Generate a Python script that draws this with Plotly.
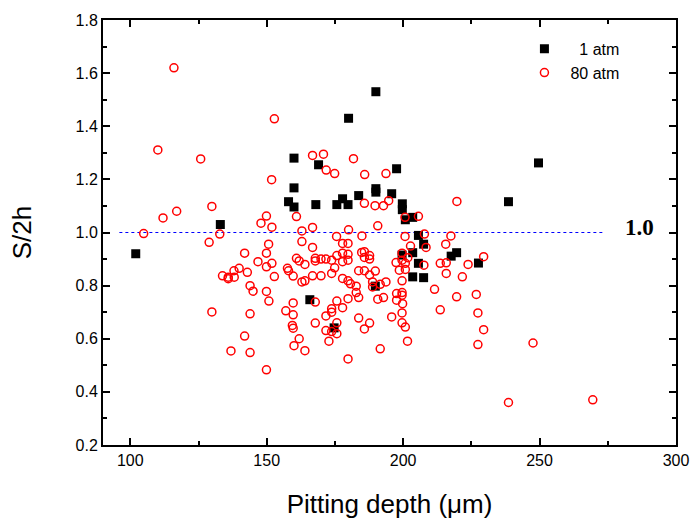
import plotly.graph_objects as go

# 1 atm (filled black squares)
x_1atm = [102, 133, 190, 180, 160, 169, 197.6, 160, 190, 190, 158, 160, 168, 175.7, 177.8,
          179.8, 183.7, 195.8, 199.7, 199.7, 200.8, 203.5, 205.6, 207.5, 203.5, 199.6, 205.6,
          203.5, 207.5, 217.6, 219.6, 227.6, 165.8, 174.7, 189.8, 249.6, 238.6]
y_1atm = [0.92, 1.03, 1.53, 1.43, 1.28, 1.255, 1.24, 1.168, 1.165, 1.152, 1.116, 1.096, 1.105, 1.105, 1.127,
          1.105, 1.139, 1.146, 1.108, 1.086, 1.048, 1.057, 0.989, 0.956, 0.924, 0.915, 0.884,
          0.833, 0.830, 0.911, 0.924, 0.885, 0.747, 0.641, 0.798, 1.262, 1.116]

# 80 atm (open red circles)
x_80atm = [116, 152.8, 110.1, 125.8, 151.8, 129.9, 117, 112, 149.9, 147.9, 151.9, 104.9, 128.9, 132.8,
           150.7, 141.9, 149.9, 146.8, 151.9, 149.9, 139.9, 138, 142.9, 133.8, 135.9, 135.9, 138.1,
           152.8, 143.9, 145, 149.9, 150.8, 129.9, 143.9, 141.9, 136.9, 143.9, 149.9, 157, 157.6,
           158, 159.7, 159.7, 159.7, 159.4, 160,
           166.8, 170.8, 171.8, 174.9, 160.9, 162.9, 166.8, 175.6, 180, 181.8, 185.9, 193.7, 185.8,
           189.7, 192.8, 194.7, 200.7, 205.6, 190.7, 184.9, 200.7, 207.8, 219.7, 217.5,
           162.9, 177.8, 179.8, 166.8, 202.7, 208.4, 215.6, 160.9, 161.9, 164, 167.8, 167.8, 169.9,
           171.7, 173.8, 175.7, 177.8, 179.8, 177.8, 179.8, 184.8, 185.8, 185.8, 187.7, 187.7, 197.4,
           199.6, 199.6, 201.7, 198.6, 200.8, 199.6, 207.6, 213.6, 215.8, 215.8, 221.7, 223.8, 211.5,
           219.6, 226.8, 213.6, 227.4, 227.4,
           166.8, 169.9, 173.8, 174.9, 162.9, 164, 177.8, 179.8, 180.7, 182.8, 183.7, 185.8, 187.7,
           189.8, 188.8, 188.8, 191.6, 193.7, 182.8, 183.7, 179.8, 175.7, 177.8, 173.8, 173.8, 171.7,
           167.8, 167.8, 171.7, 173.8, 175.7, 175.7, 172.8, 179.8, 183.7, 185.8, 187.7, 190.7, 192.8,
           195.8, 191.6, 197.6, 197.6, 199.6, 199.6, 199.6, 199.6, 200.8, 201.6, 199.8, 159.7, 161.9,
           164, 229.5, 229.5, 247.6, 238.6, 269.5, 200.8]
y_80atm = [1.62, 1.428, 1.311, 1.277, 1.199, 1.098, 1.08, 1.055, 1.062, 1.035, 1.02, 0.996, 0.963, 0.994,
           0.956, 0.922, 0.922, 0.89, 0.884, 0.871, 0.865, 0.856, 0.85, 0.837, 0.832, 0.826, 0.832,
           0.834, 0.8, 0.779, 0.778, 0.742, 0.701, 0.694, 0.61, 0.554, 0.548, 0.483, 0.705, 0.865,
           0.856, 0.836, 0.735, 0.69, 0.65, 0.574,
           1.29, 1.295, 1.235, 1.222, 1.06, 1.006, 1.019, 0.985, 1.01, 1.278, 1.218, 1.222, 1.11,
           1.101, 1.101, 1.12, 1.057, 1.061, 1.025, 0.987, 0.985, 0.994, 1.117, 0.987,
           0.966, 0.959, 0.959, 0.944, 0.949, 0.944, 0.956, 0.903, 0.893, 0.88, 0.903, 0.893, 0.9,
           0.9, 0.896, 0.913, 0.922, 0.918, 0.89, 0.896, 0.925, 0.928, 0.906, 0.913, 0.9, 0.887,
           0.922, 0.896, 0.905, 0.858, 0.861, 0.818, 0.877, 0.884, 0.886, 0.846, 0.833, 0.88, 0.786,
           0.758, 0.767, 0.709, 0.697, 0.578,
           0.837, 0.837, 0.846, 0.867, 0.814, 0.818, 0.827, 0.818, 0.807, 0.798, 0.856, 0.856, 0.84,
           0.855, 0.814, 0.795, 0.805, 0.814, 0.774, 0.755, 0.751, 0.742, 0.717, 0.713, 0.70, 0.686,
           0.738, 0.659, 0.631, 0.627, 0.66, 0.619, 0.591, 0.524, 0.678, 0.637, 0.659, 0.749, 0.755,
           0.682, 0.562, 0.77, 0.745, 0.764, 0.774, 0.697, 0.66, 0.644, 0.591, 0.732, 0.64, 0.60,
           0.555, 0.909, 0.634, 0.584, 0.36, 0.37, 0.884]

ref_x = [96, 273]
ref_y = [1.0, 1.0]

FONT = "Liberation Sans, Arial, sans-serif"

fig = go.Figure()
fig.add_trace(go.Scatter(x=ref_x, y=ref_y, mode="lines", showlegend=False, hoverinfo="skip",
                         line=dict(color="blue", width=1, dash="3px,3px")))
fig.add_trace(go.Scatter(x=x_1atm, y=y_1atm, mode="markers", name="\u20071 atm",
                         marker=dict(symbol="square", size=9, color="black")))
fig.add_trace(go.Scatter(x=x_80atm, y=y_80atm, mode="markers", name="80 atm",
                         marker=dict(symbol="circle-open", size=8, color="red", line=dict(width=1.5))))

fig.add_annotation(x=1.0, xref="paper", y=1.0, text="<b>1.0</b>", showarrow=False,
                   xanchor="right", xshift=-20, yshift=5,
                   font=dict(family="Liberation Serif, Times New Roman, serif", size=23, color="black"))

axis_common = dict(showline=True, linecolor="black", linewidth=2, mirror="ticks", ticks="inside",
                   ticklen=7, tickwidth=1.5, tickcolor="black", showgrid=False, zeroline=False,
                   automargin=False, ticklabeloverflow="allow",
                   tickfont=dict(family=FONT, size=16, color="black"))

fig.update_xaxes(range=[90, 300], dtick=50, tick0=100,
                 minor=dict(dtick=25, ticks="inside", ticklen=4, tickcolor="black"),
                 title=dict(text="Pitting depth (\u03bcm)", font=dict(family=FONT, size=26, color="black"),
                            standoff=27),
                 **axis_common)
fig.update_yaxes(range=[0.2, 1.8], dtick=0.2, tick0=0.2, tickformat=".1f",
                 minor=dict(dtick=0.1, ticks="inside", ticklen=4, tickcolor="black"),
                 title=dict(text="S/2h", font=dict(family=FONT, size=26, color="black"), standoff=36),
                 **axis_common)

fig.update_layout(
    width=691, height=522,
    margin=dict(l=103, r=15, t=20, b=77),
    plot_bgcolor="white", paper_bgcolor="white",
    font=dict(family=FONT, color="black"),
    legend=dict(x=0.725, y=0.972, xanchor="left", yanchor="top", bgcolor="rgba(0,0,0,0)",
                font=dict(family=FONT, size=16, color="black"), itemwidth=42, tracegroupgap=0),
)

# drop the default page margin so the figure sits at the window's corner
fig.write_html("out.html", config={"displayModeBar": False},
               post_script="document.body.style.margin='0';document.body.style.overflow='hidden';")
